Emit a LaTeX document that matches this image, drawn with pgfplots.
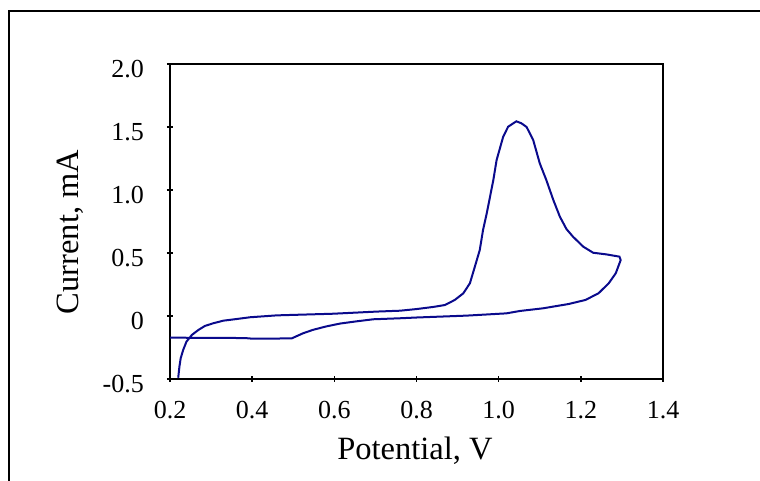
\documentclass[border=0pt]{standalone}
\usepackage{fontspec}
\setmainfont{Liberation Serif}
\usepackage{pgfplots}
\pgfplotsset{compat=1.18}

\definecolor{cvblue}{RGB}{10,10,140}

\pgfplotstableread{
E      I
0.220 -0.490
0.223 -0.400
0.226 -0.336
0.232 -0.270
0.240 -0.204
0.253 -0.151
0.269 -0.111
0.285 -0.079
0.305 -0.058
0.330 -0.037
0.362 -0.024
0.395 -0.010
0.460  0.005
0.597  0.018
0.703  0.035
0.760  0.042
0.800  0.055
0.841  0.072
0.869  0.087
0.893  0.127
0.914  0.180
0.930  0.260
0.942  0.391
0.954  0.524
0.962  0.683
0.971  0.815
0.979  0.947
0.987  1.079
0.995  1.238
1.011  1.423
1.023  1.502
1.043  1.545
1.055  1.530
1.068  1.500
1.084  1.397
1.100  1.212
1.116  1.079
1.133  0.921
1.149  0.788
1.165  0.690
1.181  0.629
1.206  0.550
1.230  0.502
1.262  0.489
1.294  0.471
1.297  0.444
1.285  0.339
1.268  0.260
1.243  0.180
1.211  0.127
1.170  0.095
1.108  0.061
1.052  0.040
1.019  0.021
0.922  0.003
0.800 -0.012
0.760 -0.018
0.695 -0.026
0.655 -0.042
0.614 -0.060
0.580 -0.083
0.548 -0.110
0.524 -0.137
0.496 -0.178
0.400 -0.180
0.383 -0.175
0.200 -0.172
}\cvdata

\begin{document}
\begin{tikzpicture}[x=1pt,y=1pt]
    \path[use as bounding box] (0,0) rectangle (760,481);
    % outer frame (only top and left edges show)
    \draw[line width=2.2pt] (9,-2) -- (9,470) -- (762,470);

    \begin{axis}[
        at={(170pt,102pt)},
        anchor=south west,
        scale only axis,
        width=493pt,
        height=315pt,
        xmin=0.2, xmax=1.4,
        ymin=-0.5, ymax=2,
        xtick={0.2,0.4,0.6,0.8,1.0,1.2,1.4},
        xticklabels={0.2,0.4,0.6,0.8,1.0,1.2,1.4},
        ytick={-0.5,0,0.5,1.0,1.5,2.0},
        yticklabels={-0.5,0,0.5,1.0,1.5,2.0},
        xtick pos=bottom,
        ytick pos=left,
        tick align=center,
        major tick length=6pt,
        tick style={black, line width=1.5pt},
        axis line style={line width=2pt},
        ticklabel style={font=\fontsize{26}{28}\selectfont},
        xticklabel style={anchor=north, inner sep=0pt, yshift=-19pt},
        yticklabel style={anchor=east, inner sep=0pt, xshift=-23pt, yshift=-5pt},
        xlabel={Potential, V},
        ylabel={Current, mA},
        label style={font=\fontsize{32.5}{36}\selectfont},
        xlabel style={at={(axis description cs:0.497,-0.2571)}, anchor=base},
        ylabel style={at={(axis description cs:-0.1866,0.4667)}, anchor=base},
    ]
        \addplot[cvblue, line width=2pt, no markers] table[x=E, y=I] {\cvdata};
    \end{axis}
\end{tikzpicture}
\end{document}
